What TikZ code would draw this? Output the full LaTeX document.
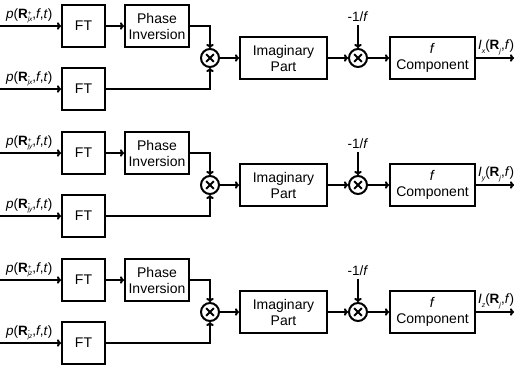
\documentclass[tikz,border=0pt]{standalone}
\usepackage{fontspec}
\setmainfont{Liberation Sans}
\usetikzlibrary{arrows.meta}

% bold R with a stacked superscript/subscript pair
\newcommand\supsub[2]{\raisebox{-3.2pt}{\vbox{\fontsize{6.5}{6.5}\selectfont
  \baselineskip=6.6pt\lineskip=0pt\lineskiplimit=-5pt
  \hbox{#1}\hbox{\itshape #2}}}}
\newcommand\subonly[1]{\raisebox{-0.55ex}{\fontsize{7}{7}\selectfont\itshape #1}}

\begin{document}
\begin{tikzpicture}[x=1pt,y=-1pt,line width=2pt,
  blk/.style={draw, minimum height=42pt, align=center, inner sep=1pt,
              font=\fontsize{14}{16}\selectfont},
  mult/.style={draw, circle, minimum size=18pt, inner sep=0pt},
  sig/.style={-{To[length=4pt,width=7.5pt]}},
  lbl/.style={font=\fontsize{13.5}{15}\selectfont, inner sep=0pt}]
\useasboundingbox (0,0) rectangle (515,367);

\foreach \r/\ax in {0/x,1/y,2/z}{
  \begin{scope}[shift={(0,127*\r)}]
    % blocks
    \node[blk, minimum width=43pt] (ftA\r) at (83.5,26) {FT};
    \node[blk, minimum width=64pt] (ph\r)  at (157,26)  {Phase\\Inversion};
    \node[blk, minimum width=43pt] (ftB\r) at (83.5,89) {FT};
    \node[mult] (mA\r) at (210,58) {};
    \node[blk, minimum width=87pt] (im\r)  at (283.5,58) {Imaginary\\Part};
    \node[mult] (mB\r) at (358,58) {};
    \node[blk, minimum width=85pt] (fc\r)  at (432.5,58) {\textit{f}\\Component};

    % multiplier crosses
    \draw ([shift={(-3.8,-3.8)}]mA\r.center) -- ([shift={(3.8,3.8)}]mA\r.center)
          ([shift={(-3.8,3.8)}]mA\r.center) -- ([shift={(3.8,-3.8)}]mA\r.center);
    \draw ([shift={(-3.8,-3.8)}]mB\r.center) -- ([shift={(3.8,3.8)}]mB\r.center)
          ([shift={(-3.8,3.8)}]mB\r.center) -- ([shift={(3.8,-3.8)}]mB\r.center);

    % free ends
    \coordinate (inA\r) at (0,26);
    \coordinate (inB\r) at (0,89);
    \coordinate (out\r) at (514,58);

    % labels
    \node[lbl, anchor=south west] (labA\r) at (5,24)
      {\textit{p}(\textbf{R}\supsub{+}{j\ax},\textit{f},\textit{t})};
    \node[lbl, anchor=south west] (labB\r) at (5,87)
      {\textit{p}(\textbf{R}\supsub{-}{j\ax},\textit{f},\textit{t})};
    \node[lbl] (mlab\r) at (358,17) {-1/\textit{f}};
    \node[lbl, anchor=south west] (labO\r) at (477,56)
      {\textit{I}\subonly{\ax}(\textbf{R}\subonly{j},\textit{f})};

    % signal flow
    \draw[sig] (inA\r) -- (ftA\r.west);
    \draw[sig] (inB\r) -- (ftB\r.west);
    \draw[sig] (ftA\r) -- (ph\r);
    \draw[sig] (ph\r.east) -| (mA\r.north);
    \draw[sig] (ftB\r.east) -| (mA\r.south);
    \draw[sig] (mA\r) -- (im\r);
    \draw[sig] (im\r) -- (mB\r);
    \draw[sig] (mlab\r.south) ++(0,2) -- (mB\r.north);
    \draw[sig] (mB\r) -- (fc\r);
    \draw[sig] (fc\r) -- (out\r);
  \end{scope}
}
\end{tikzpicture}
\end{document}
